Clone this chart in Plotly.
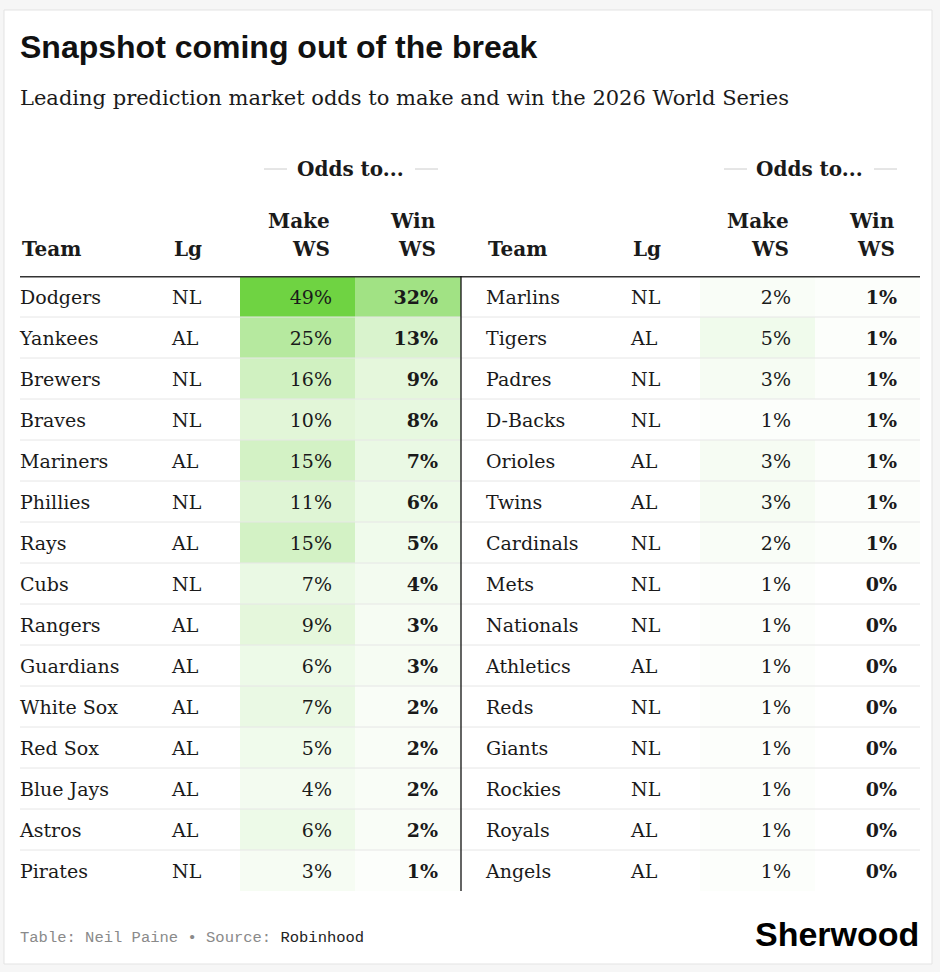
import plotly.graph_objects as go

# ---------------- data ----------------
left_teams = ["Dodgers", "Yankees", "Brewers", "Braves", "Mariners", "Phillies", "Rays",
              "Cubs", "Rangers", "Guardians", "White Sox", "Red Sox", "Blue Jays", "Astros", "Pirates"]
left_lg = ["NL", "AL", "NL", "NL", "AL", "NL", "AL", "NL", "AL", "AL", "AL", "AL", "AL", "AL", "NL"]
left_make = [49, 25, 16, 10, 15, 11, 15, 7, 9, 6, 7, 5, 4, 6, 3]
left_win = [32, 13, 9, 8, 7, 6, 5, 4, 3, 3, 2, 2, 2, 2, 1]

right_teams = ["Marlins", "Tigers", "Padres", "D-Backs", "Orioles", "Twins", "Cardinals",
               "Mets", "Nationals", "Athletics", "Reds", "Giants", "Rockies", "Royals", "Angels"]
right_lg = ["NL", "AL", "NL", "NL", "AL", "AL", "NL", "NL", "NL", "AL", "NL", "NL", "NL", "AL", "AL"]
right_make = [2, 5, 3, 1, 3, 3, 2, 1, 1, 1, 1, 1, 1, 1, 1]
right_win = [1, 1, 1, 1, 1, 1, 1, 0, 0, 0, 0, 0, 0, 0, 0]

col_headers = ["Team", "Lg", "Make WS", "Win WS"]
group_header = "Odds to..."
title = "Snapshot coming out of the break"
subtitle = "Leading prediction market odds to make and win the 2026 World Series"

# ---------------- layout constants (pixels) ----------------
W, H = 940, 972
TOP, ROW_H = 276, 41
N = len(left_teams)
BOTTOM = TOP + ROW_H * N
TEXT_DROP = 3
SERIF = "DejaVu Serif"
FS = 19
HFS = 20
INK = "#1a1a1a"

halves = [
    dict(teams=left_teams, lg=left_lg, make=left_make, win=left_win,
         team_x=20, lg_x=172, edges=[240, 355, 461], make_r=332, win_r=438),
    dict(teams=right_teams, lg=right_lg, make=right_make, win=right_win,
         team_x=486, lg_x=631, edges=[700, 815, 920], make_r=791, win_r=897),
]

def py(p):
    return 1 - p / H

rows = list(range(N))
fig = go.Figure()

for h in halves:
    fig.add_trace(go.Heatmap(
        x=h["edges"], y=rows,
        z=[[m, w] for m, w in zip(h["make"], h["win"])],
        zmin=0, zmax=max(left_make),
        colorscale=[[0, "#ffffff"], [1, "#6fd342"]],
        showscale=False, hoverinfo="skip",
    ))

# row separators
sep_x, sep_y = [], []
for i in rows[:-1]:
    sep_x += [20, 920, None]
    sep_y += [i + 0.5, i + 0.5, None]
fig.add_trace(go.Scatter(x=sep_x, y=sep_y, mode="lines",
                         line=dict(color="#e6e6e6", width=1), hoverinfo="skip"))

for h in halves:
    fig.add_trace(go.Scatter(x=[h["team_x"]] * N, y=rows, text=h["teams"], mode="text",
                             textposition="middle right", hoverinfo="skip", yaxis="y2",
                             textfont=dict(family=SERIF, size=FS, color=INK)))
    fig.add_trace(go.Scatter(x=[h["lg_x"]] * N, y=rows, text=h["lg"], mode="text",
                             textposition="middle right", hoverinfo="skip", yaxis="y2",
                             textfont=dict(family=SERIF, size=FS, color=INK)))
    fig.add_trace(go.Scatter(x=[h["make_r"]] * N, y=rows, text=[f"{v}%" for v in h["make"]],
                             mode="text", textposition="middle left", hoverinfo="skip", yaxis="y2",
                             textfont=dict(family=SERIF, size=FS, color=INK)))
    fig.add_trace(go.Scatter(x=[h["win_r"]] * N, y=rows, text=[f"{v}%" for v in h["win"]],
                             mode="text", textposition="middle left", hoverinfo="skip", yaxis="y2",
                             textfont=dict(family=SERIF, size=FS, color=INK, weight="bold")))

shapes = [
    dict(type="rect", xref="paper", yref="paper", x0=4 / W, x1=932 / W, y0=py(964), y1=py(10),
         fillcolor="white", line=dict(color="#e3e3e3", width=1), layer="below"),
    dict(type="line", xref="x", yref="y", x0=20, x1=920, y0=-0.5, y1=-0.5,
         line=dict(color="#333333", width=3)),
    dict(type="line", xref="x", yref="y", x0=461, x1=461, y0=-0.5, y1=N - 0.5,
         line=dict(color="#111111", width=1.3)),
]

ann = []
def A(text, x, y, size=FS, anchor="left", family=SERIF, color=INK):
    ann.append(dict(text=text, x=x / W, y=py(y), xref="paper", yref="paper",
                    xanchor=anchor, yanchor="middle", showarrow=False,
                    font=dict(family=family, size=size, color=color)))

A(f"<b>{title}</b>", 18, 47, size=32, family="Liberation Sans", color="#111111")
A(subtitle, 18, 98, size=21)

for h in halves:
    cx = (h["edges"][0] + h["win_r"]) / 2 + 11
    A(f"<b>{group_header}</b>", cx, 169, size=HFS, anchor="center")
    shapes.append(dict(type="line", xref="paper", yref="paper",
                       x0=(h["edges"][0] + 24) / W, x1=(h["edges"][0] + 47) / W,
                       y0=py(169), y1=py(169), line=dict(color="#cccccc", width=1)))
    shapes.append(dict(type="line", xref="paper", yref="paper",
                       x0=(h["win_r"] - 23) / W, x1=(h["win_r"]) / W,
                       y0=py(169), y1=py(169), line=dict(color="#cccccc", width=1)))
    A(f"<b>{col_headers[0]}</b>", h["team_x"], 249, size=HFS)
    A(f"<b>{col_headers[1]}</b>", h["lg_x"], 249, size=HFS)
    mk = col_headers[2].split(" ")
    wn = col_headers[3].split(" ")
    A(f"<b>{mk[0]}</b>", h["make_r"], 221, size=HFS, anchor="right")
    A(f"<b>{mk[1]}</b>", h["make_r"], 249, size=HFS, anchor="right")
    A(f"<b>{wn[0]}</b>", h["win_r"], 221, size=HFS, anchor="right")
    A(f"<b>{wn[1]}</b>", h["win_r"], 249, size=HFS, anchor="right")

A("<span style='color:#8a8a8a'>Table: Neil Paine • Source: </span>Robinhood", 18, 938,
  size=15.5, family="Liberation Mono", color="#222222")
A("<b>Sherwood</b>", 921, 934, size=34, anchor="right", family="Liberation Sans", color="#000000")

fig.update_layout(
    width=W, height=H, margin=dict(l=0, r=0, t=0, b=0),
    paper_bgcolor="#f6f6f6", plot_bgcolor="rgba(0,0,0,0)",
    showlegend=False, shapes=shapes, annotations=ann,
    xaxis=dict(range=[0, W], domain=[0, 1], visible=False, fixedrange=True),
    yaxis=dict(range=[N - 0.5, -0.5], domain=[py(BOTTOM), py(TOP)], visible=False, fixedrange=True),
    yaxis2=dict(range=[N - 0.5, -0.5], domain=[py(BOTTOM + TEXT_DROP), py(TOP + TEXT_DROP)],
                anchor="x", visible=False, fixedrange=True),
)
fig.write_html("out.html", config={"displayModeBar": False},
               post_script="document.body.style.margin='0';document.body.style.overflow='hidden';")
